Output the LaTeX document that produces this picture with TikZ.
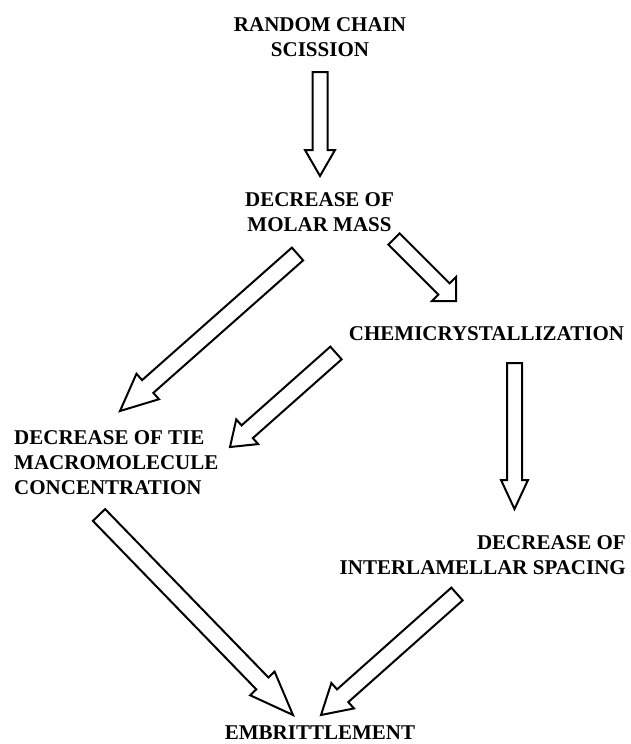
\documentclass[tikz,border=0pt]{standalone}
\usepackage{fontspec}
\setmainfont{Liberation Serif}
\usetikzlibrary{calc}
\tikzset{
  lbl/.style={font=\bfseries\fontsize{21}{25}\selectfont, inner sep=0pt, text=black},
  blk/.style={draw=black, line width=2pt, line join=miter},
  barrow/.style n args={4}{
    to path={let \p1=($(\tikztotarget)!#3!(\tikztostart)$),
                 \p2=($(\tikztotarget)!#4!(\tikztostart)$) in
      ($(\tikztostart)!#1!90:(\tikztotarget)$) --
      ($(\p1)!#1!90:(\tikztotarget)$) --
      ($(\p2)!#2!90:(\tikztotarget)$) --
      (\tikztotarget) --
      ($(\p2)!#2!-90:(\tikztotarget)$) --
      ($(\p1)!#1!-90:(\tikztotarget)$) --
      ($(\tikztostart)!#1!-90:(\tikztotarget)$) -- cycle}}
}
\begin{document}
\begin{tikzpicture}[x=1pt,y=-1pt]
\useasboundingbox[fill=white] (0,0) rectangle (630,744);
% labels
\node[lbl, align=center] (n1) at (320,37) {RANDOM CHAIN\\SCISSION};
\node[lbl, align=center] (n2) at (319.5,212) {DECREASE OF\\MOLAR MASS};
\node[lbl] (n3) at (486.5,333.5) {CHEMICRYSTALLIZATION};
\node[lbl, align=left, anchor=west] (n4) at (14,463) {DECREASE OF TIE\\MACROMOLECULE\\CONCENTRATION};
\node[lbl, align=right, anchor=east] (n5) at (626,555.5) {DECREASE OF\\INTERLAMELLAR SPACING};
\node[lbl] (n6) at (320,733) {EMBRITTLEMENT};
% arrow end points
\coordinate (a1s) at (320,72);    \coordinate (a1t) at (320,176);
\coordinate (a2s) at (394,239);   \coordinate (a2t) at (456,301);
\coordinate (a3s) at (297.5,254); \coordinate (a3t) at (120,411);
\coordinate (a4s) at (336,353);   \coordinate (a4t) at (230,447);
\coordinate (a5s) at (514.5,363); \coordinate (a5t) at (514.5,509);
\coordinate (a6s) at (99,515);    \coordinate (a6t) at (293,715);
\coordinate (a7s) at (457,594);   \coordinate (a7t) at (321,715);
% block arrows
\draw[blk] (a1s) to[barrow={7.5pt}{15pt}{26pt}{26pt}] (a1t);
\draw[blk] (a2s) to[barrow={8pt}{17pt}{17pt}{17pt}] (a2t);
\draw[blk] (a3s) to[barrow={8.5pt}{17pt}{37pt}{37pt}] (a3t);
\draw[blk] (a4s) to[barrow={8.5pt}{16.5pt}{23pt}{23pt}] (a4t);
\draw[blk] (a5s) to[barrow={7.5pt}{13.5pt}{29pt}{29pt}] (a5t);
\draw[blk] (a6s) to[barrow={8.5pt}{17pt}{44pt}{44pt}] (a6t);
\draw[blk] (a7s) to[barrow={8.5pt}{17pt}{29pt}{29pt}] (a7t);
\end{tikzpicture}
\end{document}
